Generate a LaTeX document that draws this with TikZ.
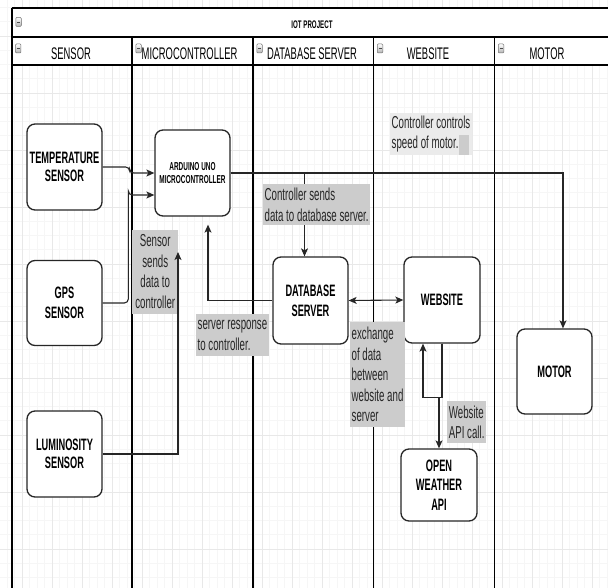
\documentclass[tikz,border=0pt]{standalone}
\usepackage{fontspec}
\setmainfont{Liberation Sans}[FakeStretch=0.56]
\usetikzlibrary{arrows.meta,calc}
\newcommand\boxfnt{\bfseries\fontsize{16.5}{18.5}\selectfont}
\newcommand\lblfnt{\fontsize{17.3}{20.5}\selectfont}
\newcommand\hdrfnt{\fontsize{16.8}{18}\selectfont}
\newcommand\ttlfnt{\bfseries\fontsize{11}{12}\selectfont}
\newcommand\arfnt{\bfseries\fontsize{11.5}{13}\selectfont}
\definecolor{lblgray}{HTML}{CCCCCC}
\definecolor{lbllight}{HTML}{EBEBEB}
\definecolor{gridminor}{HTML}{F6F6F6}
\definecolor{gridmajor}{HTML}{E8E8E8}
\tikzset{
  gbox/.style={draw=black!85, line width=1.3pt, rounded corners=8pt, fill=white,
    inner sep=0pt, align=center, font=\boxfnt},
  lbl/.style={fill=lblgray, inner sep=1.5pt, align=left, font=\lblfnt,
    text=black!85, anchor=north west},
  conn/.style={draw=black!85, line width=1.1pt,
    -{Stealth[length=8pt,width=7pt,inset=2pt]}},
  lane/.style={draw=black, line width=1.7pt},
  hline/.style={draw=black, line width=2pt},
  icon/.style={draw=black!55, line width=0.5pt, rounded corners=1pt,
    top color=white, bottom color=black!30, minimum width=5.5pt,
    minimum height=9pt, inner sep=0pt},
}
\begin{document}
\begin{tikzpicture}[x=1pt,y=-1pt]
\useasboundingbox (0,0) rectangle (608,588);
% background grid
\foreach \k in {-3,...,79} {
  \pgfmathsetmacro\xx{22+7.5*\k}
  \draw[gridminor, line width=0.6pt] (\xx,0) -- (\xx,588);
}
\foreach \k in {-3,...,39} {
  \pgfmathsetmacro\yy{36+14.25*\k}
  \draw[gridminor, line width=0.6pt] (0,\yy) -- (608,\yy);
}
\foreach \k in {-1,...,20} {
  \pgfmathsetmacro\xx{22+30*\k}
  \draw[gridmajor, line width=0.7pt] (\xx,0) -- (\xx,588);
}
\foreach \k in {-1,...,10} {
  \pgfmathsetmacro\yy{36+57*\k}
  \draw[gridmajor, line width=0.7pt] (0,\yy) -- (608,\yy);
}
% pool header
\fill[white] (11.7,8.5) rectangle (608,65);
\draw[hline] (11.7,8.5) -- (608,8.5);
\draw[hline] (11.7,37) -- (608,37);
\draw[hline] (11.7,65) -- (608,65);
\foreach \lx in {11.7,132,253,373.5,494.5} {
  \draw[lane] (\lx,37) -- (\lx,588);
}
\draw[lane] (11.7,8.5) -- (11.7,37);
% icons
\node[icon] (ic0) at (18.5,22) {};
\draw[black!70, line width=0.8pt] ($(ic0.center)+(-1.5,0)$) -- ($(ic0.center)+(1.5,0)$);
\foreach \lx/\nm in {11.7/a,132/b,253/c,373.5/d,494.5/e} {
  \node[icon] (ic\nm) at ({\lx+6.5},48.5) {};
  \draw[black!70, line width=0.8pt] ($(ic\nm.center)+(-1.5,0)$) -- ($(ic\nm.center)+(1.5,0)$);
}
% titles
\node[font=\ttlfnt] (title) at (312,24.5) {IOT PROJECT};
\node[font=\hdrfnt] (hsens) at (71,53.5) {SENSOR};
\node[font=\hdrfnt] (hmicro) at (189.5,53.5) {MICROCONTROLLER};
\node[font=\hdrfnt] (hdb) at (312,53.5) {DATABASE SERVER};
\node[font=\hdrfnt] (hweb) at (428,53.5) {WEBSITE};
\node[font=\hdrfnt] (hmot) at (547,53.5) {MOTOR};
% boxes
\node[gbox, minimum width=75pt, minimum height=86pt] (temp) at (64.5,167) {TEMPERATURE\\SENSOR};
\node[gbox, minimum width=75pt, minimum height=85pt] (gps) at (64.5,303) {GPS\\[1.5pt]SENSOR};
\node[gbox, minimum width=75pt, minimum height=86pt] (lum) at (64.5,454) {LUMINOSITY\\SENSOR};
\node[gbox, minimum width=75pt, minimum height=86pt, font=\arfnt] (ard) at (192.5,173) {ARDUINO UNO\\MICROCONTROLLER};
\node[gbox, minimum width=75pt, minimum height=87pt] (db) at (310.5,300.5) {DATABASE\\[1.5pt]SERVER};
\node[gbox, minimum width=76pt, minimum height=86pt] (web) at (442,300) {WEBSITE};
\node[gbox, minimum width=76pt, minimum height=72pt] (api) at (439,485) {OPEN\\[1pt]WEATHER\\[1pt]API};
\node[gbox, minimum width=75pt, minimum height=85pt] (motor) at (554.5,371.5) {MOTOR};
% connectors
\draw[conn, rounded corners=4pt] (temp.east) -- ++(27,0) |- (ard.west);
\draw[conn, rounded corners=4pt] (gps.east) -| ($(ard.west)+(-26,22)$) |- ($(ard.west)+(0,22)$);
\draw[conn] (ard.east) -| ($(db.north)+(-6,0)$);
\draw[conn] (ard.east) -| ($(motor.north)+(8.5,0)$);
\draw[conn] (db.west) -| ($(ard.south)+(15.5,8)$);
\draw[conn, {Stealth[length=8pt,width=7pt,inset=2pt]}-{Stealth[length=8pt,width=7pt,inset=2pt]}] (db.east) -- (web.west);
\draw[conn] (web.south) -- ++(0,54) coordinate (wb) -| (api.north);
\draw[conn] (wb) -| ($(web.south)+(-19,0)$);
% labels
\node[lbl, align=center, minimum width=46pt, minimum height=84pt] (lsens) at (132,229.5) {Sensor\\sends\\data to\\controller};
\node[lbl, minimum width=106pt, minimum height=41pt] (lctrl) at (263,184) {Controller sends\\data to database server.};
\node[lbl, minimum width=71pt, minimum height=42pt] (lresp) at (196,314) {server response\\to controller.};
\node[lbl, fill=lbllight, minimum width=79pt, minimum height=42pt] (lmot) at (390,113) {Controller controls\\speed of motor.\phantom{xx}};
\fill[lblgray] (458.5,135) rectangle (469,155);
\node[lbl, minimum width=54pt, minimum height=105pt] (lexch) at (350,322) {exchange\\of data\\between\\website and\\server};
\node[lbl, minimum width=39pt, minimum height=42pt] (lapi) at (447,401) {Website\\API call.};
% luminosity arrow
\coordinate (lumend) at (178,252);
\draw[conn] (lum.east) -| (lumend);
\end{tikzpicture}
\end{document}
